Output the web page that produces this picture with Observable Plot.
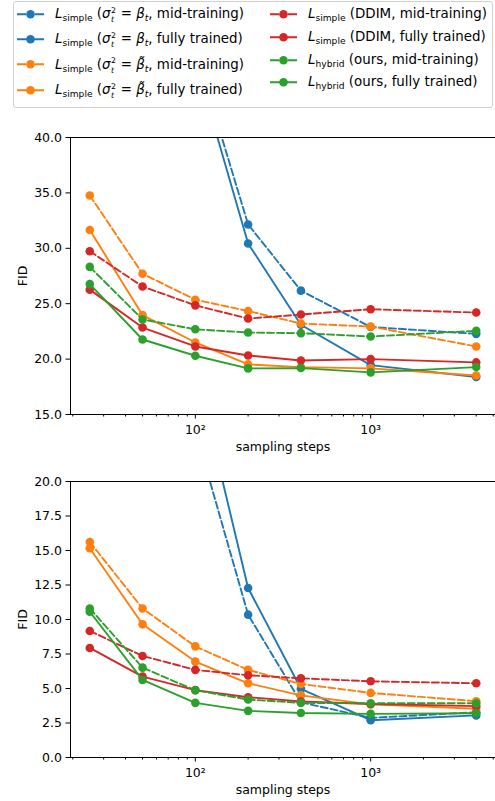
<!DOCTYPE html>
<html>
<head>
<meta charset="utf-8">
<script src="https://cdn.jsdelivr.net/npm/d3@7"></script>
<script src="https://cdn.jsdelivr.net/npm/@observablehq/plot@0.6"></script>
<style>
  html, body { margin: 0; padding: 0; background: #fff; }
  body { width: 495px; height: 801px; position: relative; overflow: hidden; font-family: "DejaVu Sans", sans-serif; }
  .leg { position: absolute; left: 13px; top: 1px; width: 478px; height: 105px; border: 1px solid #d0d0d0; border-radius: 3px; background: #fff; }
  .item { position: absolute; display: flex; align-items: center; font-size: 13.4px; line-height: 1; white-space: nowrap; transform: translateY(-50%); color: #000; }
  .item svg { margin-right: 11px; flex: none; }
  .sub { font-size: 68%; position: relative; top: 0.35em; }
  .sp { font-size: 7.8px; position: relative; top: -5.2px; margin-left: 0.5px; }
  .sb { font-size: 7.8px; font-style: italic; position: relative; top: 4px; margin-left: -4.96px; margin-right: 2.4px; }
  .panel { position: absolute; left: 0; }
</style>
</head>
<body>
<div id="legend"></div>
<div id="p1" class="panel" style="top:110px"></div>
<div id="p2" class="panel" style="top:465px"></div>
<script>
// ---------- data ----------
const steps = [25, 50, 100, 200, 400, 1000, 4000];

// top panel
const topBlueMid    = [130, 80, 47.9, 32.15, 26.18, 22.9, 22.28];
const topBlueFull   = [125, 75, 46.9, 30.43, 23.1, 19.46, 18.38];
const topOrangeMid  = [34.77, 27.7, 25.36, 24.34, 23.21, 22.94, 21.14];
const topOrangeFull = [31.65, 23.97, 21.5, 19.52, 19.28, 19.16, 18.52];
const topRedMid     = [29.74, 26.55, 24.85, 23.66, 24.02, 24.5, 24.2];
const topRedFull    = [26.27, 22.85, 21.14, 20.33, 19.87, 20.0, 19.7];
const topGreenMid   = [28.32, 23.58, 22.69, 22.4, 22.34, 22.04, 22.55];
const topGreenFull  = [26.77, 21.77, 20.3, 19.16, 19.19, 18.8, 19.28];

// bottom panel
const botBlueMid    = [110, 60, 23.7, 10.35, 4.0, 2.87, 3.28];
const botBlueFull   = [115, 65, 28.3, 12.28, 4.98, 2.7, 3.05];
const botOrangeMid  = [15.62, 10.8, 8.05, 6.35, 5.33, 4.68, 4.08];
const botOrangeFull = [15.16, 9.65, 6.95, 5.38, 4.5, 3.85, 3.53];
const botRedMid     = [9.17, 7.36, 6.35, 5.96, 5.74, 5.52, 5.38];
const botRedFull    = [7.94, 5.86, 4.88, 4.37, 4.06, 3.88, 3.72];
const botGreenMid   = [10.8, 6.51, 4.87, 4.2, 3.96, 3.93, 3.93];
const botGreenFull  = [10.56, 5.62, 3.96, 3.38, 3.23, 3.16, 3.21];

const colors = ["#1f77b4", "#1f77b4", "#ff7f0e", "#ff7f0e", "#d62728", "#d62728", "#2ca02c", "#2ca02c"];
const dashed = [true, false, true, false, true, false, true, false];
const SS = '<span class="sp">2</span><span class="sb">t</span>';
const legendLabels = [
  '<i>L</i><span class="sub">simple</span> (<i>σ</i>' + SS + ' = <i>β</i><span class="sub"><i>t</i></span>, mid-training)',
  '<i>L</i><span class="sub">simple</span> (<i>σ</i>' + SS + ' = <i>β</i><span class="sub"><i>t</i></span>, fully trained)',
  '<i>L</i><span class="sub">simple</span> (<i>σ</i>' + SS + ' = <i>β̃</i><span class="sub"><i>t</i></span>, mid-training)',
  '<i>L</i><span class="sub">simple</span> (<i>σ</i>' + SS + ' = <i>β̃</i><span class="sub"><i>t</i></span>, fully trained)',
  '<i>L</i><span class="sub">simple</span> (DDIM, mid-training)',
  '<i>L</i><span class="sub">simple</span> (DDIM, fully trained)',
  '<i>L</i><span class="sub">hybrid</span> (ours, mid-training)',
  '<i>L</i><span class="sub">hybrid</span> (ours, fully trained)'
];
const topSeries = [topBlueMid, topBlueFull, topOrangeMid, topOrangeFull, topRedMid, topRedFull, topGreenMid, topGreenFull];
const botSeries = [botBlueMid, botBlueFull, botOrangeMid, botOrangeFull, botRedMid, botRedFull, botGreenMid, botGreenFull];

const topYTicks = [15, 20, 25, 30, 35, 40];
const botYTicks = [0, 2.5, 5, 7.5, 10, 12.5, 15, 17.5, 20];
const majorXTicks = [100, 1000];
const majorXLabels = ["10²", "10³"];
const minorXTicks = [20, 30, 40, 50, 60, 70, 80, 90, 200, 300, 400, 500, 600, 700, 800, 900, 2000, 3000, 4000, 5000];

// ---------- legend ----------
const legendPos = [
  [17, 14], [17, 39], [17, 64.5], [17, 90],
  [270, 14], [270, 37], [270, 60], [270, 82]
];
const leg = document.getElementById("legend");
let html = '<div class="leg"></div>';
legendLabels.forEach((lab, i) => {
  const c = colors[i];
  const da = dashed[i] ? ' stroke-dasharray="9,9"' : '';
  html += `<div class="item" style="left:${legendPos[i][0]}px;top:${legendPos[i][1]}px">` +
    `<svg width="27" height="10"><line x1="0" x2="27" y1="5" y2="5" stroke="${c}" stroke-width="1.9"${da}/>` +
    `<circle cx="13.5" cy="5" r="4.3" fill="${c}"/></svg><span>${lab}</span></div>`;
});
leg.innerHTML = html;

// ---------- panels ----------
const xDomain = [19.41, 5152];
function panel(seriesValues, yDomain, yTicks, height, marginTop, marginBottom) {
  const marks = [];
  seriesValues.forEach((vals, i) => {
    const data = steps.map((s, j) => ({step: s, fid: vals[j]}));
    marks.push(Plot.line(data, {x: "step", y: "fid", stroke: colors[i], strokeWidth: 1.9,
      strokeDasharray: dashed[i] ? "7,3" : null, clip: true}));
    marks.push(Plot.dot(data, {x: "step", y: "fid", fill: colors[i], r: 4.3, clip: true}));
  });
  marks.push(Plot.ruleY([yDomain[1]], {stroke: "#000", strokeWidth: 1}));
  marks.push(Plot.ruleY([yDomain[0]], {stroke: "#000", strokeWidth: 1}));
  marks.push(Plot.ruleX([xDomain[0]], {stroke: "#000", strokeWidth: 1}));
  marks.push(Plot.axisY(yTicks, {tickSize: 4.5, tickPadding: 4, tickFormat: d3.format(".1f"),
    label: "FID", labelAnchor: "center", labelOffset: 52, labelArrow: "none"}));
  marks.push(Plot.axisX(majorXTicks, {tickSize: 4.5, tickPadding: 6, tickFormat: (d) => majorXLabels[majorXTicks.indexOf(d)],
    label: "sampling steps", labelAnchor: "center", labelOffset: 36, labelArrow: "none"}));
  marks.push(Plot.axisX(minorXTicks, {tickSize: 2.5, tickFormat: () => "", label: null}));
  return Plot.plot({
    width: 495, height, marginLeft: 70, marginRight: 0, marginTop, marginBottom,
    x: {type: "log", domain: xDomain},
    y: {domain: yDomain},
    style: {fontFamily: "DejaVu Sans", fontSize: "12.5px", color: "#000", background: "transparent", overflow: "visible"},
    marks
  });
}
document.getElementById("p1").appendChild(panel(topSeries, [15, 40], topYTicks, 360, 27, 56));
document.getElementById("p2").appendChild(panel(botSeries, [0, 20], botYTicks, 336, 16, 44));
</script>
</body>
</html>
